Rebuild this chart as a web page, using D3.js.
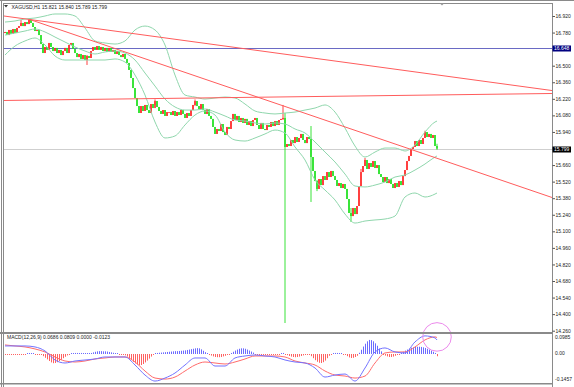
<!DOCTYPE html>
<html>
<head>
<meta charset="utf-8">
<script src="https://cdn.jsdelivr.net/npm/d3@7"></script>
<style>
  body { margin: 0; background: #fff; }
  svg { display: block; font-family: "Liberation Sans", Arial, sans-serif; }
</style>
</head>
<body>
<svg id="chart" width="574" height="387"></svg>
<script>
// XAGUSD H1 - candles, bollinger bands, trend lines, MACD window

const symbol = 'XAGUSD,H1';
const lastOHLC = [15.821, 15.840, 15.789, 15.799];
const firstOpen = 16.776;

// hourly closes, one per bar
const closes = [
  16.785, 16.759, 16.802, 16.768, 16.810, 16.776, 16.819, 16.835, 16.861, 16.835,
  16.869, 16.852, 16.886, 16.861, 16.827, 16.793, 16.802, 16.759, 16.683, 16.607,
  16.658, 16.633, 16.692, 16.658, 16.624, 16.650, 16.607, 16.633, 16.590, 16.624,
  16.650, 16.607, 16.675, 16.692, 16.641, 16.607, 16.573, 16.599, 16.557, 16.590,
  16.548, 16.582, 16.565, 16.624, 16.658, 16.633, 16.666, 16.633, 16.658, 16.624,
  16.650, 16.616, 16.650, 16.616, 16.633, 16.599, 16.624, 16.590, 16.573, 16.599,
  16.557, 16.523, 16.464, 16.396, 16.311, 16.227, 16.159, 16.100, 16.159, 16.117,
  16.168, 16.125, 16.100, 16.176, 16.142, 16.201, 16.151, 16.117, 16.092, 16.125,
  16.075, 16.108, 16.108, 16.083, 16.117, 16.075, 16.108, 16.083, 16.125, 16.092,
  16.058, 16.100, 16.075, 16.125, 16.168, 16.201, 16.159, 16.134, 16.176, 16.125,
  16.092, 16.134, 16.075, 16.050, 15.982, 15.923, 15.965, 15.948, 16.007, 15.939,
  15.914, 15.982, 15.965, 16.032, 16.092, 16.041, 16.075, 16.024, 16.058, 16.016,
  16.050, 15.999, 16.032, 15.990, 16.041, 16.058, 15.999, 15.965, 16.016, 15.965,
  15.956, 15.999, 15.982, 16.024, 15.990, 16.032, 15.999, 16.041, 16.050, 16.058,
  15.813, 15.838, 15.821, 15.872, 15.846, 15.897, 15.855, 15.889, 15.923, 15.872,
  15.846, 15.897, 15.880, 15.728, 15.610, 15.525, 15.458, 15.542, 15.491, 15.567,
  15.534, 15.601, 15.559, 15.610, 15.567, 15.534, 15.483, 15.508, 15.466, 15.500,
  15.458, 15.373, 15.255, 15.229, 15.297, 15.246, 15.314, 15.483, 15.601, 15.652,
  15.703, 15.627, 15.677, 15.644, 15.694, 15.635, 15.660, 15.584, 15.559, 15.517,
  15.559, 15.508, 15.542, 15.500, 15.466, 15.508, 15.475, 15.525, 15.491, 15.567,
  15.618, 15.694, 15.737, 15.796, 15.813, 15.863, 15.821, 15.872, 15.838, 15.889,
  15.939, 15.897, 15.923, 15.889, 15.914, 15.821, 15.799
];

// bars with visible wicks
const wickBar  = [8, 12, 41, 75, 95, 139, 140, 153, 156, 173, 178, 180, 210, 216];
const wickHigh = [16.886, 16.895, 16.590, 16.215, 16.215, 16.168, 16.100, 15.990, 15.534, 15.297, 15.627, 15.720, 15.950, 15.840];
const wickLow  = [16.835, 16.852, 16.506, 16.168, 16.159, 16.041, 14.325, 15.348, 15.440, 15.179, 15.483, 15.652, 15.889, 15.789];

// bollinger bands read every 5 bars
const bandIdx = [0, 5, 10, 15, 20, 25, 30, 35, 40, 45, 50, 55, 60, 65, 70, 75, 80, 85, 90, 95,
  100, 105, 110, 115, 120, 125, 130, 135, 140, 145, 150, 155, 160, 165, 170, 175, 180, 185,
  190, 195, 200, 205, 210, 215, 216];
const bbUpper = [16.869, 16.878, 16.895, 16.903, 16.920, 16.937, 16.937, 16.920, 16.819, 16.709,
  16.692, 16.683, 16.709, 16.802, 16.835, 16.802, 16.675, 16.421, 16.252, 16.235,
  16.218, 16.227, 16.235, 16.227, 16.176, 16.117, 16.100, 16.092, 16.100, 16.108,
  16.125, 16.142, 16.168, 16.108, 15.973, 15.821, 15.728, 15.770, 15.804, 15.804,
  15.779, 15.830, 15.939, 16.024, 16.032];
const bbMiddle = [16.759, 16.776, 16.793, 16.810, 16.785, 16.742, 16.700, 16.658, 16.624, 16.599,
  16.616, 16.624, 16.607, 16.548, 16.438, 16.328, 16.218, 16.151, 16.125, 16.125,
  16.134, 16.108, 16.075, 16.041, 16.032, 16.016, 16.007, 16.016, 16.007, 15.965,
  15.931, 15.855, 15.770, 15.686, 15.584, 15.483, 15.475, 15.491, 15.517, 15.559,
  15.576, 15.618, 15.669, 15.728, 15.737];
const bbLower = [16.590, 16.666, 16.709, 16.734, 16.675, 16.582, 16.548, 16.548, 16.548, 16.548,
  16.548, 16.557, 16.531, 16.421, 16.252, 16.024, 15.889, 15.906, 15.999, 16.083,
  16.117, 16.083, 15.939, 15.872, 15.863, 15.889, 15.923, 15.956, 15.931, 15.813,
  15.703, 15.534, 15.449, 15.365, 15.246, 15.170, 15.187, 15.196, 15.204, 15.229,
  15.390, 15.424, 15.390, 15.415, 15.424];

// MACD(12,26,9) main + signal, read every 5 bars
const macdMain = [0.039, 0.039, 0.039, 0.034, 0.014, -0.031, -0.046, -0.036, -0.031, -0.026,
  -0.016, -0.016, -0.016, -0.056, -0.106, -0.136, -0.121, -0.096, -0.056, -0.021,
  -0.021, -0.061, -0.061, -0.021, -0.011, -0.006, -0.011, -0.016, -0.031, -0.041,
  -0.046, -0.071, -0.116, -0.106, -0.101, -0.136, -0.071, 0.009, 0.029, 0.009,
  0.004, 0.059, 0.089, 0.079, 0.0686];
const macdSignal = [0.044, 0.039, 0.034, 0.024, 0.009, -0.016, -0.036, -0.041, -0.036, -0.026,
  -0.021, -0.016, -0.016, -0.041, -0.086, -0.121, -0.126, -0.116, -0.086, -0.056,
  -0.041, -0.046, -0.051, -0.041, -0.026, -0.011, -0.011, -0.011, -0.016, -0.036,
  -0.046, -0.056, -0.086, -0.106, -0.111, -0.121, -0.111, -0.046, 0.004, 0.009,
  0.009, 0.034, 0.069, 0.084, 0.0809];

// MACD histogram, one per bar
const macdHist = [
  -0.004, -0.005, -0.004, -0.005, -0.004, -0.004, -0.003, -0.003,
  -0.002, -0.002, -0.001, 0.001, 0.002, 0.002, 0.001, -0.001, -0.002, -0.003,
  -0.005, -0.012, -0.020, -0.028, -0.036, -0.043, -0.047, -0.046, -0.042, -0.036, -0.030, -0.022, -0.015, -0.008,
  -0.003, 0.001, 0.003, 0.004, 0.004, 0.003, 0.004, 0.003, 0.002, 0.003, 0.003,
  0.004, 0.007, 0.010, 0.012, 0.013, 0.013, 0.012, 0.012, 0.011, 0.009, 0.007, 0.005,
  0.003, 0.002, -0.001, -0.002,
  -0.003, -0.008, -0.014, -0.022, -0.031, -0.040, -0.048, -0.054, -0.057, -0.056, -0.051, -0.043, -0.034, -0.024, -0.014, -0.006,
  0.002, 0.004, 0.005, 0.006, 0.007, 0.008, 0.009, 0.010, 0.011, 0.012, 0.013, 0.013, 0.014, 0.015, 0.016, 0.017, 0.019, 0.021, 0.023, 0.025, 0.027, 0.028, 0.027,
  0.022, 0.015, 0.008, 0.002,
  -0.004, -0.009, -0.013, -0.016, -0.017, -0.017, -0.016, -0.013, -0.010, -0.006, -0.002,
  0.004, 0.010, 0.016, 0.021, 0.025, 0.027, 0.027, 0.025, 0.021, 0.016, 0.011, 0.006,
  -0.002, -0.003, -0.003, -0.002, -0.003, -0.004, -0.003, -0.002, -0.003, -0.003, -0.002, -0.002, -0.001, 0.001,
  0.004,
  -0.003, -0.007, -0.011, -0.014, -0.016, -0.017, -0.016, -0.014, -0.011, -0.008, -0.005, -0.002,
  -0.004, -0.012, -0.022, -0.032, -0.040, -0.045, -0.046, -0.042, -0.034, -0.022,
  -0.010, -0.002, 0.003, 0.004, 0.004, 0.003, 0.002, -0.002,
  -0.006, -0.012, -0.018, -0.021, -0.020, -0.016, -0.010,
  0.005, 0.020, 0.036, 0.050, 0.062, 0.069, 0.068, 0.062, 0.052, 0.040, 0.026, 0.012,
  -0.004, -0.009, -0.013, -0.016, -0.016, -0.014, -0.010, -0.006, -0.002,
  0.004, 0.010, 0.016, 0.021, 0.026, 0.030, 0.032, 0.034, 0.035, 0.035, 0.034, 0.032, 0.029, 0.025, 0.021, 0.016, 0.010, 0.004,
  -0.0123
];
const macdLabels = [0.0686, 0.0809, 0.0000, -0.0123];
const macdScaleLabels = [0.0985, 0.00, -0.1457];

// price scale ticks
const priceTicks = [16.92, 16.78, 16.64, 16.50, 16.36, 16.22, 16.08, 15.94, 15.80, 15.66,
  15.52, 15.38, 15.24, 15.10, 14.96, 14.82, 14.68, 14.54, 14.40, 14.26];

// drawn objects: trend lines as [bar, price] ends, a level line
const trendFrom = [[-0.5, 16.920], [12.5, 16.890], [-0.5, 16.206]];
const trendTo   = [[273.5, 16.290], [273.5, 15.386], [273.5, 16.265]];
const levelLine = 16.648;

const svg = d3.select('#chart');
const w = 574;
const h = 387;
const axisX = 552.5;

let x = d3.scaleLinear()
  .domain([0, closes.length - 1])
  .range([5, 437]);

let y = d3.scaleLinear()
  .domain([14.26, 16.92])
  .range([330.7, 16]);

let ym = d3.scaleLinear()
  .domain([-0.1457, 0.0985])
  .range([383, 334]);

svg.append('rect').attr('width', w).attr('height', h).attr('fill', '#fff');

let defs = svg.append('defs');
defs.append('clipPath').attr('id', 'mainClip')
  .append('rect').attr('x', 4).attr('y', 4).attr('width', axisX - 4).attr('height', 328);
defs.append('clipPath').attr('id', 'macdClip')
  .append('rect').attr('x', 4).attr('y', 334).attr('width', axisX - 4).attr('height', 49);

let main = svg.append('g').attr('clip-path', 'url(#mainClip)');

// level + bid line
main.append('line')
  .attr('x1', 4).attr('x2', axisX)
  .attr('y1', Math.round(y(levelLine)) + 0.5).attr('y2', Math.round(y(levelLine)) + 0.5)
  .attr('stroke', '#6a6ac4');
main.append('line')
  .attr('x1', 4).attr('x2', axisX)
  .attr('y1', Math.round(y(lastOHLC[3])) + 0.5).attr('y2', Math.round(y(lastOHLC[3])) + 0.5)
  .attr('stroke', '#cfcfcf');

// candles
let bars = closes.map((c, i) => {
  let o = i === 0 ? firstOpen : closes[i - 1];
  let k = wickBar.indexOf(i);
  return {
    i: i, o: o, c: c,
    hi: k >= 0 ? wickHigh[k] : Math.max(o, c),
    lo: k >= 0 ? wickLow[k] : Math.min(o, c)
  };
});

let candle = main.selectAll('g.candle')
  .data(bars)
  .enter()
  .append('g')
  .attr('class', 'candle');

candle.append('line')
  .attr('x1', (d) => x(d.i)).attr('x2', (d) => x(d.i))
  .attr('y1', (d) => y(d.hi)).attr('y2', (d) => y(d.lo))
  .attr('stroke', (d) => d.c >= d.o ? '#ff2a2a' : '#22e022')
  .attr('stroke-width', 0.9);

candle.append('rect')
  .attr('x', (d) => x(d.i) - 0.8)
  .attr('width', 1.6)
  .attr('y', (d) => y(Math.max(d.o, d.c)))
  .attr('height', (d) => Math.max(1, Math.abs(y(d.o) - y(d.c))))
  .attr('fill', (d) => d.c >= d.o ? '#ff2a2a' : '#22e022');

// bollinger bands
let bandLine = d3.line()
  .x((d, k) => x(bandIdx[k]))
  .y((d) => y(d))
  .curve(d3.curveMonotoneX);

[bbUpper, bbMiddle, bbLower].forEach((band) => {
  main.append('path')
    .attr('d', bandLine(band))
    .attr('fill', 'none')
    .attr('stroke', '#8fd6ac')
    .attr('stroke-width', 1);
});

// trend lines
trendFrom.forEach((p, k) => {
  main.append('line')
    .attr('x1', x(p[0])).attr('y1', y(p[1]))
    .attr('x2', x(trendTo[k][0])).attr('y2', y(trendTo[k][1]))
    .attr('stroke', '#ff5c5c')
    .attr('stroke-width', 1);
});

// MACD window
let macd = svg.append('g').attr('clip-path', 'url(#macdClip)');

// histogram as 1px wide rects, at least 1px tall
let zeroY = Math.round(ym(0));
macd.selectAll('rect.hist')
  .data(macdHist)
  .enter()
  .append('rect')
  .attr('class', 'hist')
  .attr('x', (d, i) => Math.round(x(i)))
  .attr('width', 1)
  .attr('y', (d) => d >= 0 ? Math.min(zeroY - 1, ym(d)) : zeroY)
  .attr('height', (d) => Math.max(1, Math.abs(ym(d) - zeroY)))
  .attr('fill', (d) => d >= 0 ? '#6b6bff' : '#ff6161');

let macdLine = d3.line()
  .x((d, k) => x(bandIdx[k]))
  .y((d) => ym(d))
  .curve(d3.curveMonotoneX);

macd.append('path')
  .attr('d', macdLine(macdSignal))
  .attr('fill', 'none')
  .attr('stroke', '#ff6b6b')
  .attr('stroke-width', 1);
macd.append('path')
  .attr('d', macdLine(macdMain))
  .attr('fill', 'none')
  .attr('stroke', '#7373ff')
  .attr('stroke-width', 1);

// pink circle marking the last MACD cross
svg.append('circle')
  .attr('cx', x(closes.length - 1))
  .attr('cy', ym(0.084))
  .attr('r', 14.3)
  .attr('fill', 'none')
  .attr('stroke', '#ec8aec')
  .attr('stroke-width', 1);

// frame
let frame = svg.append('g').attr('fill', '#8a8a8a');
frame.append('rect').attr('x', 0).attr('y', 0).attr('width', w).attr('height', 1);
frame.append('rect').attr('x', 3).attr('y', 3).attr('width', axisX - 3).attr('height', 1);
frame.append('rect').attr('x', 1).attr('y', 0).attr('width', 1).attr('height', h);
frame.append('rect').attr('x', 3).attr('y', 3).attr('width', 1).attr('height', h);
frame.append('rect').attr('x', 0).attr('y', 332).attr('width', axisX).attr('height', 2);
frame.append('rect').attr('x', 0).attr('y', 383).attr('width', axisX).attr('height', 1.5);
frame.append('rect').attr('x', axisX - 0.5).attr('y', 3).attr('width', 1).attr('height', h);

// price axis
let yAxis = d3.axisRight(y)
  .tickValues(priceTicks)
  .tickSize(2.5)
  .tickPadding(0.5)
  .tickFormat(d3.format('.3f'));

let gy = svg.append('g')
  .attr('transform', `translate(${axisX}, 0)`)
  .call(yAxis);
gy.select('.domain').remove();
gy.selectAll('line').attr('stroke', '#555');
gy.selectAll('text')
  .attr('fill', '#222')
  .style('font-size', '5px')
  .style('font-family', '"Liberation Sans", Arial, sans-serif');

// price boxes
function priceBox(value, bg) {
  let yy = Math.round(y(value)) + 0.5;
  svg.append('rect')
    .attr('x', axisX).attr('y', yy - 3)
    .attr('width', 18.5).attr('height', 6)
    .attr('fill', bg);
  svg.append('text')
    .attr('x', axisX + 1.5).attr('y', yy + 1.8)
    .attr('fill', '#fff')
    .style('font-size', '5px')
    .text(value.toFixed(3));
}
priceBox(levelLine, '#000080');
priceBox(lastOHLC[3], '#000');

// MACD scale labels (max label pushed down, min label pushed up like MT4)
let macdLabelY = [ym(macdScaleLabels[0]) + 4.5, ym(0) + 1.5, ym(macdScaleLabels[2]) - 1.8];
macdScaleLabels.forEach((v, k) => {
  svg.append('text')
    .attr('x', axisX + 2.5)
    .attr('y', macdLabelY[k])
    .attr('fill', '#222')
    .style('font-size', '5px')
    .text(v === 0 ? '0.00' : v.toFixed(4));
});

// titles
svg.append('path')
  .attr('d', 'M4,5 L8,5 L6,7.5 Z')
  .attr('fill', '#333');
svg.append('text')
  .attr('x', 11.5).attr('y', 8.5)
  .attr('fill', '#222')
  .style('font-size', '5px')
  .text(symbol + '  ' + lastOHLC.map((v) => v.toFixed(3)).join(' '));

svg.append('text')
  .attr('x', 7).attr('y', 339)
  .attr('fill', '#222')
  .style('font-size', '5px')
  .text('MACD(12,26,9) ' + macdLabels.map((v) => v.toFixed(4)).join(' '));

// shift marker at the top
svg.append('path')
  .attr('d', 'M440,3.5 L444,3.5 L442,5.5 Z')
  .attr('fill', '#999');
</script>
</body>
</html>
